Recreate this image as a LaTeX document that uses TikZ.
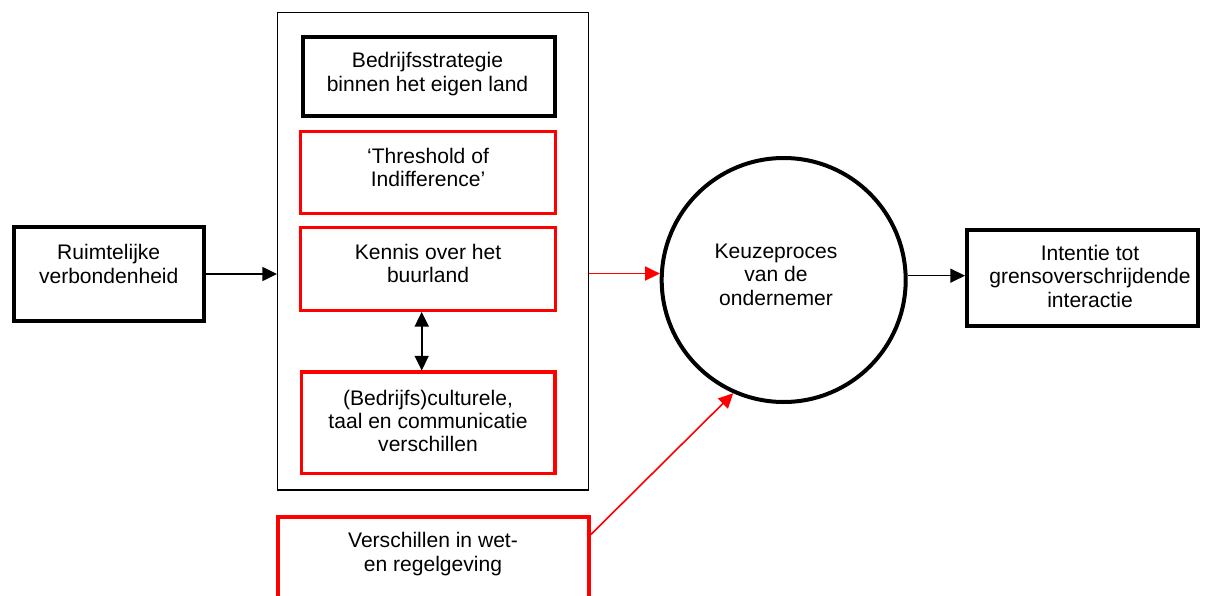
\documentclass[tikz,border=0pt]{standalone}
\usepackage{fontspec}
\setmainfont{Liberation Sans}
\usetikzlibrary{arrows.meta,calc}
\definecolor{boxred}{RGB}{255,0,0}
\tikzset{
  lbl/.style={font=\fontsize{15.8}{17.5}\selectfont, align=center, anchor=base, inner sep=0pt},
  blackbox/.style={draw=black, line width=3pt, rectangle, inner sep=0pt},
  redbox/.style={draw=boxred, line width=2.5pt, rectangle, inner sep=0pt},
  framebox/.style={draw=black, line width=1.1pt, rectangle, inner sep=0pt},
  arr/.style={line width=1.2pt, -{Triangle[length=11pt,width=10.5pt]}},
  dblarr/.style={line width=1.2pt, {Triangle[length=11pt,width=10.5pt]}-{Triangle[length=11pt,width=10.5pt]}},
}
\begin{document}
\begin{tikzpicture}[x=0.75pt,y=-0.75pt]
\path[use as bounding box, clip] (0,0) rectangle (1211,596);
\fill[white] (0,0) rectangle (1211,596);

% enclosing frame around the four factors
\node[framebox, minimum width=310.6*0.75pt, minimum height=477.6*0.75pt] (outer) at (433,251.2) {};

% boxes
\node[blackbox, minimum width=190*0.75pt, minimum height=94*0.75pt] (left) at (109,274) {};
\node[blackbox, minimum width=252.6*0.75pt, minimum height=79*0.75pt] (b1) at (429,76.5) {};
\node[redbox, minimum width=255*0.75pt, minimum height=82*0.75pt] (b2) at (428.3,172.5) {};
\node[redbox, minimum width=255*0.75pt, minimum height=82.7*0.75pt] (b3) at (428.3,268.9) {};
\node[redbox, minimum width=253.7*0.75pt, minimum height=101.3*0.75pt] (b4) at (428.3,422.8) {};
\node[redbox, line width=3pt, minimum width=310.7*0.75pt, minimum height=103*0.75pt] (bb) at (433.3,568.5) {};
\node[blackbox, minimum width=231*0.75pt, minimum height=96*0.75pt] (right) at (1082.5,278) {};
\node[draw=black, line width=3pt, circle, minimum size=244*0.75pt, inner sep=0pt] (c) at (783.7,280) {};

% labels (placed by the baseline of their last line)
\node[lbl] (tleft) at (108.7,283) {Ruimtelijke\\verbondenheid};
\node[lbl] (t1) at (427.5,91) {Bedrijfsstrategie\\binnen het eigen land};
\node[lbl] (t2) at (428,186.7) {‘Threshold of\\Indifference’};
\node[lbl] (t3) at (428,282.7) {Kennis over het\\buurland};
\node[lbl] (t4) at (428,451.7) {(Bedrijfs)culturele,\\taal en communicatie\\verschillen};
\node[lbl] (tbb) at (433,571) {Verschillen in wet-\\en regelgeving};
\node[lbl] (tc) at (776,305) {Keuzeproces\\van de\\ondernemer};
\node[lbl] (tright) at (1090,307) {Intentie tot\\grensoverschrijdende\\interactie};

% connectors
\coordinate (dx) at (421.7,0);
\draw[arr] (left.east) -- (left.east -| outer.west);
\draw[arr, draw=boxred, fill=boxred] (c.177.65 -| outer.east) -- (c.177.65);
\draw[arr] (c.2.35) -- (c.2.35 -| right.west);
\draw[dblarr] (b3.south -| dx) -- (b4.north -| dx);
\draw[arr, draw=boxred, fill=boxred] ($(bb.north east)+(0,19.7)$) -- (c.246.2);
\end{tikzpicture}
\end{document}
